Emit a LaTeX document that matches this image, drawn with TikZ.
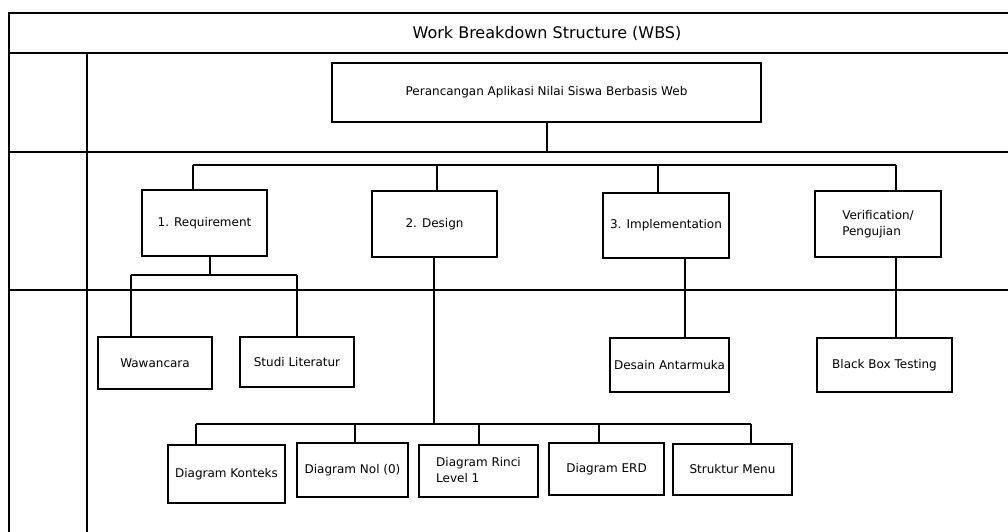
\documentclass[tikz,border=0pt]{standalone}
\usepackage{fontspec}
\setmainfont{DejaVu Sans}
\begin{document}
\begin{tikzpicture}[x=1pt,y=-1pt,
  grid/.style={line width=2.2pt},
  wbox/.style={draw,line width=2.8pt,inner sep=0pt,align=center,font=\fontsize{12}{16}\selectfont},
  link/.style={line width=2.5pt}]
\useasboundingbox (0,0) rectangle (1008,532);
\fill[white] (0,0) rectangle (1008,532);
% frame
\draw[grid] (9,532) -- (9,13) -- (1008,13);
\draw[grid] (9,53) -- (1008,53);
\draw[grid] (9,152) -- (1008,152);
\draw[grid] (9,290) -- (1008,290);
\draw[grid] (87,53) -- (87,532);
\node[font=\fontsize{16}{19}\selectfont] (title) at (547,33) {Work Breakdown Structure (WBS)};
% boxes
\node[wbox,minimum width=429,minimum height=59] (top) at (546.5,92.5) {Perancangan Aplikasi Nilai Siswa Berbasis Web};
\node[wbox,minimum width=125,minimum height=66] (req) at (204.5,223) {1. Requirement};
\node[wbox,minimum width=125,minimum height=66] (des) at (434.5,224) {2. Design};
\node[wbox,minimum width=126,minimum height=65] (imp) at (666,225.5) {3. Implementation};
\node[wbox,minimum width=126,minimum height=66] (ver) at (878,224) {\begin{tabular}{@{}l@{}}Verification/\\Pengujian\end{tabular}};
\node[wbox,minimum width=114,minimum height=52] (waw) at (155,363) {Wawancara};
\node[wbox,minimum width=114,minimum height=50] (stu) at (297,362) {Studi Literatur};
\node[wbox,minimum width=119,minimum height=54] (dea) at (669.5,365) {Desain Antarmuka};
\node[wbox,minimum width=135,minimum height=54] (bbt) at (884.5,365) {Black Box Testing};
\node[wbox,minimum width=117,minimum height=58] (kon) at (226.5,474) {Diagram Konteks};
\node[wbox,minimum width=111,minimum height=54] (nol) at (352.5,470) {Diagram Nol (0)};
\node[wbox,minimum width=119,minimum height=52] (rin) at (478.5,471) {\begin{tabular}{@{}l@{}}Diagram Rinci\\Level 1\end{tabular}};
\node[wbox,minimum width=115,minimum height=52] (erd) at (606.5,469) {Diagram ERD};
\node[wbox,minimum width=119,minimum height=51] (stm) at (732.5,469.5) {Struktur Menu};
% connectors
\coordinate (r0) at (547,152);
\draw[link] (top.south -| r0) -- (r0);
\coordinate (b1) at (193,165);
\coordinate (b2) at (437,165);
\coordinate (b3) at (658,165);
\coordinate (b4) at (896,165);
\draw[link] (b1) -- (b4);
\draw[link] (b1) -- (req.north -| b1);
\draw[link] (b2) -- (des.north -| b2);
\draw[link] (b3) -- (imp.north -| b3);
\draw[link] (b4) -- (ver.north -| b4);
% requirement children
\coordinate (q0) at (210,275);
\coordinate (q1) at (131,275);
\coordinate (q2) at (297,275);
\draw[link] (req.south -| q0) -- (q0);
\draw[link] (q1) -- (q2);
\draw[link] (q1) -- (waw.north -| q1);
\draw[link] (q2) -- (stu.north -| q2);
% design children
\coordinate (e0) at (434,424);
\coordinate (e1) at (196,424);
\coordinate (e2) at (355,424);
\coordinate (e3) at (479,424);
\coordinate (e4) at (599,424);
\coordinate (e5) at (751,424);
\draw[link] (des.south -| e0) -- (e0);
\draw[link] (e1) -- (e5);
\draw[link] (e1) -- (kon.north -| e1);
\draw[link] (e2) -- (nol.north -| e2);
\draw[link] (e3) -- (rin.north -| e3);
\draw[link] (e4) -- (erd.north -| e4);
\draw[link] (e5) -- (stm.north -| e5);
% implementation / verification
\coordinate (i0) at (685,0);
\draw[link] (imp.south -| i0) -- (dea.north -| i0);
\coordinate (v0) at (896,0);
\draw[link] (ver.south -| v0) -- (bbt.north -| v0);
\end{tikzpicture}
\end{document}
